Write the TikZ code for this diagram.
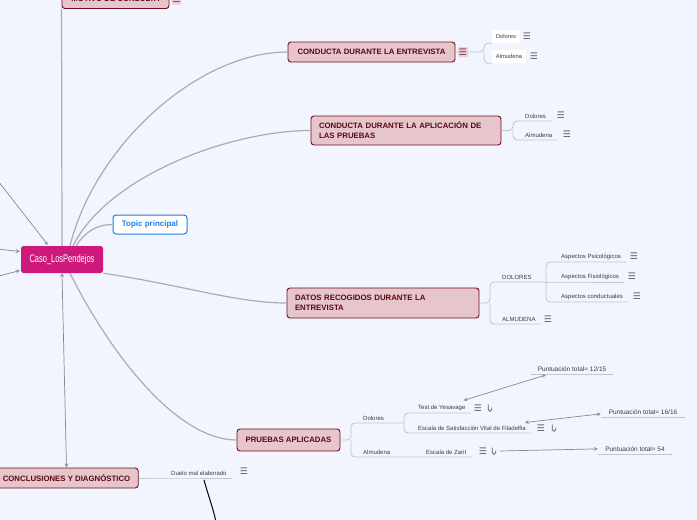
\documentclass[tikz,border=0pt]{standalone}
\usepackage{fontspec}
\setmainfont{Liberation Sans}
\newfontfamily\iconfont{DejaVu Sans}
\newfontfamily\condfont[FakeStretch=0.68]{Liberation Sans}
\usetikzlibrary{calc}
\definecolor{MapBack}{HTML}{F3F5FE}
\definecolor{MapRoot}{HTML}{CF187B}
\definecolor{MapFill}{HTML}{E6C6CB}
\definecolor{MapEdge}{HTML}{6E0C22}
\definecolor{MapText}{HTML}{5A0818}
\definecolor{MapLine}{HTML}{ABABB0}
\definecolor{MapUnder}{HTML}{C4C6CE}
\definecolor{MapSub}{HTML}{3C3C40}
\definecolor{MapBlue}{HTML}{1E7FE0}
\definecolor{MapRel}{HTML}{858993}

\begin{document}
\begin{tikzpicture}[x=1pt,y=-1pt,
  root/.style={fill=MapRoot,rounded corners=2.5pt,minimum width=82pt,
    minimum height=27pt,text=white,font=\condfont\fontsize{11}{12}\selectfont},
  topic/.style={draw=MapEdge,fill=MapFill,line width=0.9pt,rounded corners=3pt,
    inner xsep=8pt,minimum height=20pt,text=MapText,
    font=\bfseries\fontsize{7.8}{10}\selectfont},
  tp/.style={draw=MapBlue,fill=white,line width=1pt,rounded corners=3pt,
    minimum width=74pt,minimum height=19pt,text=MapBlue,
    font=\bfseries\fontsize{8}{9}\selectfont},
  sub/.style={anchor=south west,inner xsep=5pt,inner ysep=2.3pt,text=MapSub,
    font=\fontsize{6}{7}\selectfont},
  wsub/.style={fill=white,rounded corners=1.5pt,inner xsep=4pt,inner ysep=3pt,
    minimum height=13pt,text=MapSub,font=\fontsize{5.8}{6.5}\selectfont},
  score/.style={anchor=south,inner ysep=2.5pt,text=MapSub,
    font=\fontsize{6.5}{7.5}\selectfont},
  ico/.style={inner sep=0.5pt,text=MapSub!85,font=\iconfont\fontsize{9}{9}\selectfont},
  pico/.style={ico,fill=MapFill!85,rounded corners=1pt,minimum size=10pt,text=MapText!80},
  br/.style={draw=MapLine,line width=1.2pt},
  twig/.style={draw=MapUnder,line width=0.9pt,rounded corners=4pt},
  rel/.style={draw=MapRel,line width=0.7pt},
  hk/.style={draw=MapSub!85,line width=0.8pt}]
  \path[use as bounding box,fill=MapBack] (0,0) rectangle (697,520);

  % nodos principales
  \node[root]  (c)  at (62,259.5) {Caso\_LosPendejos};
  \node[tp]    (tp) at (150,224.5) {Topic principal};
  \node[topic,minimum width=107pt] (m)  at (115.5,-1.5) {MOTIVO DE CONSULTA};
  \node[topic,minimum width=167pt] (e1) at (371.5,52) {CONDUCTA DURANTE LA ENTREVISTA};
  \node[topic,align=left,text width=174pt,minimum height=29pt] (e2) at (406,130.5)
    {CONDUCTA DURANTE LA APLICACIÓN DE\\LAS PRUEBAS};
  \node[topic,align=left,text width=176pt,minimum height=30pt] (e3) at (383,303)
    {DATOS RECOGIDOS DURANTE LA\\ENTREVISTA};
  \node[topic,minimum width=103pt,minimum height=22pt] (e4) at (288.5,440) {PRUEBAS APLICADAS};
  \node[topic,minimum width=143pt] (cn) at (66.5,478) {CONCLUSIONES Y DIAGNÓSTICO};

  % ramas desde el centro
  \coordinate (L1) at (-12,168);
  \coordinate (L2) at (-12,248);
  \coordinate (L3) at (-12,279);
  \draw[rel,-stealth] (L1) -- ($(c.north west)+(27,-1)$);
  \draw[rel,-stealth] (L2) -- ($(c.west)+(-1,-8)$);
  \draw[rel,-stealth] (L3) -- ($(c.west)+(-1,11)$);
  \draw[br] (c.north) -- (m.south west);
  \draw[br] ($(c.north)+(8,0)$) .. controls +(25,-100) and +(-90,0) .. (e1.west);
  \draw[br] ($(c.north)+(11,0)$) .. controls +(35,-70) and +(-80,0) .. (e2.west);
  \draw[br] ($(c.north)+(14,0)$) .. controls +(10,-15) and +(-15,0) .. (tp.west);
  \draw[br] (c.south east) .. controls +(80,12) and +(-50,0) .. (e3.west);
  \draw[br] ($(c.south)+(8,0)$) .. controls +(40,80) and +(-60,0) .. (e4.west);
  \draw[rel,stealth-stealth] (c.south) -- (cn.north);

  % motivo de consulta
  \node[pico] (mi) at (176.5,-0.5) {☰};

  % conducta durante la entrevista
  \coordinate (j1) at (484,52);
  \node[wsub] (d1) at (506,36.5) {Dolores};
  \node[wsub] (a1) at (509,56.5) {Almudena};
  \draw[twig] (e1.east) -- (j1) |- (d1.south west);
  \draw[twig] (j1) |- (a1.south west);
  \node[pico] (e1i) at (463,52) {☰};
  \node[ico] (d1i) at (527,36) {☰};
  \node[ico] (a1i) at (534,56) {☰};

  % conducta durante la aplicacion
  \coordinate (j2) at (513,130.5);
  \node[sub] (d2) at (520,121) {Dolores};
  \node[sub] (a2) at (520,140) {Almudena};
  \draw[twig] (e2.east) -- (j2) |- (d2.south west) -- (d2.south east);
  \draw[twig] (j2) |- (a2.south west) -- (a2.south east);
  \node[ico] (d2i) at (561,115) {☰};
  \node[ico] (a2i) at (567,134) {☰};

  % datos recogidos
  \coordinate (j3) at (490,303);
  \coordinate (j3b) at (546,282);
  \node[sub] (d3) at (497,282) {DOLORES};
  \node[sub] (a3) at (497,324) {ALMUDENA};
  \node[sub] (s1) at (556,262) {Aspectos Psicológicos};
  \node[sub] (s2) at (556,282) {Aspectos Fisiológicos};
  \node[sub] (s3) at (556,302) {Aspectos conductuales};
  \draw[twig] (e3.east) -- (j3) |- (d3.south west) -- (j3b);
  \draw[twig] (j3) |- (a3.south west) -- (a3.south east);
  \draw[twig] (j3b) |- (s1.south west) -- (s1.south east);
  \draw[twig] (j3b) -- (s2.south west) -- (s2.south east);
  \draw[twig] (j3b) |- (s3.south west) -- (s3.south east);
  \node[ico] (s1i) at (634,256) {☰};
  \node[ico] (s2i) at (632,276) {☰};
  \node[ico] (s3i) at (637,296) {☰};
  \node[ico] (a3i) at (548,319) {☰};

  % pruebas aplicadas
  \coordinate (j4) at (351,440);
  \coordinate (j4b) at (404,423);
  \node[sub] (d4) at (358,423) {Dolores};
  \node[sub] (a4) at (358,457) {Almudena};
  \node[sub] (t1) at (413,413) {Test de Yesavage};
  \node[sub] (t2) at (413,433) {Escala de Satisfacción Vital de Filadelfia};
  \node[sub] (z)  at (421,457) {Escala de Zarit};
  \draw[twig] (e4.east) -- (j4) |- (d4.south west) -- (j4b);
  \draw[twig] (j4) |- (a4.south west) -- (z.south east);
  \draw[twig] (j4b) |- (t1.south west) -- (t1.south east);
  \draw[twig] (j4b) |- (t2.south west) -- (t2.south east);
  \node[ico] (t1i) at (478,408) {☰};
  \node[ico] (t2i) at (541,428) {☰};
  \node[ico] (zi)  at (483,451) {☰};
  \coordinate (h1) at (490,408);
  \coordinate (h2) at (554,428);
  \coordinate (h3) at (494,451);
  \foreach \h in {h1,h2,h3}
    \draw[hk] (\h) ++(-1.8,-3.5) -- ++(0,5)
      .. controls +(0,2.5) and +(0,2.5) .. ++(3.6,0) -- ++(0,-1.8);

  % puntuaciones
  \node[score,minimum width=82pt] (p1) at (572,374) {Puntuación total= 12/15};
  \node[score,minimum width=84pt] (p2) at (643,417) {Puntuación total= 16/16};
  \node[score,minimum width=74pt] (p3) at (635,454) {Puntuación total= 54};
  \foreach \p in {p1,p2,p3}
    \draw[twig] (\p.south west) -- (\p.south east);
  \draw[rel,stealth-stealth] ($(t1.north east)+(-7,-2)$) -- ($(p1.south west)+(15,1)$);
  \draw[rel,stealth-stealth] ($(t2.north east)+(-6,-1)$) -- ($(p2.west)+(0,2)$);
  \draw[rel,-stealth] ($(h3)+(6,0)$) -- (p3.west);

  % conclusiones
  \node[sub] (du) at (166,478) {Duelo mal elaborado};
  \draw[twig] (cn.east) -- (du.south west) -- (du.south east);
  \node[ico] (dui) at (244,471) {☰};
  \coordinate (dx) at (217,528);
  \draw[black,line width=1pt] ($(du.south west)+(38,2)$)
    .. controls +(4,15) and +(-2,-15) .. (dx);
\end{tikzpicture}
\end{document}
